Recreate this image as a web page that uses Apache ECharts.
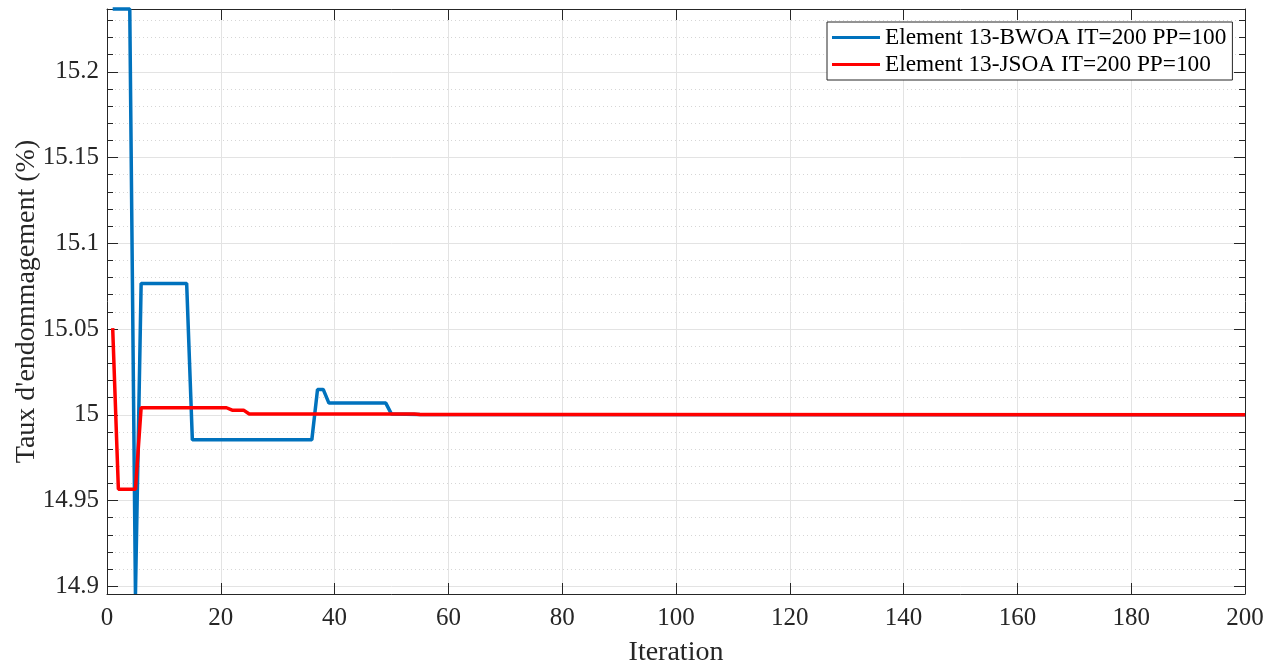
<!DOCTYPE html>
<html>
<head>
<meta charset="utf-8">
<script src="https://cdn.jsdelivr.net/npm/echarts@6/dist/echarts.min.js"></script>
<style>
html,body{margin:0;padding:0;background:#fff;}
#chart{width:1281px;height:668px;}
</style>
</head>
<body>
<div id="chart"></div>
<script>
// Breakpoints (iteration, value); segments between are straight lines
const iterBWOA = [1, 4, 5, 6, 14, 15, 36, 37, 38, 39, 49, 50, 55, 200];
const valBWOA  = [15.2366, 15.2366, 14.8955, 15.0766, 15.0766, 14.9854, 14.9854, 15.0148, 15.0148, 15.0068, 15.0068, 15.0004, 15.0002, 15.0000];
const iterJSOA = [1, 2, 5, 6, 21, 22, 24, 25, 54, 55, 72, 200];
const valJSOA  = [15.0505, 14.9566, 14.9566, 15.0041, 15.0041, 15.0027, 15.0027, 15.0005, 15.0004, 15.0001, 15.0001, 15.0000];
const seriesNames = ['Element 13-BWOA IT=200 PP=100', 'Element 13-JSOA IT=200 PP=100'];
const xTicks = [0, 200, 20];   // min, max, step
const yName = "Taux d'endommagement (%)";
const xName = 'Iteration';

const yMin = Math.min(...valBWOA, ...valJSOA);
const yMax = Math.max(...valBWOA, ...valJSOA);

const pairs = (xs, ys) => xs.map((x, i) => [x, ys[i]]);
const FONT = 'Liberation Serif';
const TXT = '#262626';

const chart = echarts.init(document.getElementById('chart'), null, {renderer: 'canvas', width: 1281, height: 668});

const yCommon = {
  type: 'value', min: yMin, max: yMax, splitNumber: 6,
  axisLine: {show: true, onZero: false, lineStyle: {color: TXT, width: 1}},
  axisTick: {show: true, inside: true, length: 11, lineStyle: {color: TXT, width: 1}},
  minorTick: {show: true, splitNumber: 5, length: 6, lineStyle: {color: TXT, width: 1}}
};
const xCommon = {
  type: 'value', min: xTicks[0], max: xTicks[1], interval: xTicks[2],
  axisLine: {show: true, onZero: false, lineStyle: {color: TXT, width: 1}},
  axisTick: {show: true, inside: true, length: 11, lineStyle: {color: TXT, width: 1}}
};

chart.setOption({
  animation: false,
  backgroundColor: '#fff',
  grid: {left: 107, right: 36, top: 9, bottom: 74, containLabel: false, outerBoundsMode: 'none'},
  legend: {
    data: seriesNames,
    orient: 'vertical', left: 827, top: 22,
    padding: [4, 6, 4, 5], itemGap: 4,
    itemWidth: 48, itemHeight: 3, icon: 'rect',
    borderColor: TXT, borderWidth: 1, backgroundColor: '#fff',
    textStyle: {fontFamily: FONT, fontSize: 23.3, color: '#000', padding: [0, 0, 0, 0]}
  },
  xAxis: [
    Object.assign({}, xCommon, {
      position: 'bottom',
      name: xName, nameLocation: 'middle', nameGap: 45,
      nameTextStyle: {fontFamily: FONT, fontSize: 28, color: TXT},
      axisLabel: {show: true, margin: 12, fontFamily: FONT, fontSize: 25, color: TXT},
      splitLine: {show: true, lineStyle: {color: '#e3e3e3', width: 1}}
    }),
    Object.assign({}, xCommon, {
      position: 'top',
      axisLabel: {show: false}, splitLine: {show: false}
    })
  ],
  yAxis: [
    Object.assign({}, yCommon, {
      position: 'left',
      name: yName, nameLocation: 'middle', nameGap: 66, nameMoveOverlap: false,
      nameTextStyle: {fontFamily: FONT, fontSize: 28, color: TXT},
      axisLabel: {show: true, margin: 8, fontFamily: FONT, fontSize: 25, color: TXT,
        showMinLabel: false, showMaxLabel: false,
        formatter: v => String(+v.toFixed(2))},
      splitLine: {show: true, lineStyle: {color: '#e3e3e3', width: 1}},
      minorSplitLine: {show: true, lineStyle: {color: '#d6d6d6', width: 1, type: [1, 3]}}
    }),
    Object.assign({}, yCommon, {
      position: 'right',
      axisLabel: {show: false}, splitLine: {show: false}
    })
  ],
  series: [
    {
      name: seriesNames[0], type: 'line', xAxisIndex: 0, yAxisIndex: 0,
      data: pairs(iterBWOA, valBWOA), showSymbol: false, symbol: 'none', clip: false,
      lineStyle: {color: '#0072BD', width: 3.5}, itemStyle: {color: '#0072BD'}
    },
    {
      name: seriesNames[1], type: 'line', xAxisIndex: 0, yAxisIndex: 0,
      data: pairs(iterJSOA, valJSOA), showSymbol: false, symbol: 'none', clip: false,
      lineStyle: {color: '#FF0000', width: 3.5}, itemStyle: {color: '#FF0000'}
    }
  ]
});
</script>
</body>
</html>
